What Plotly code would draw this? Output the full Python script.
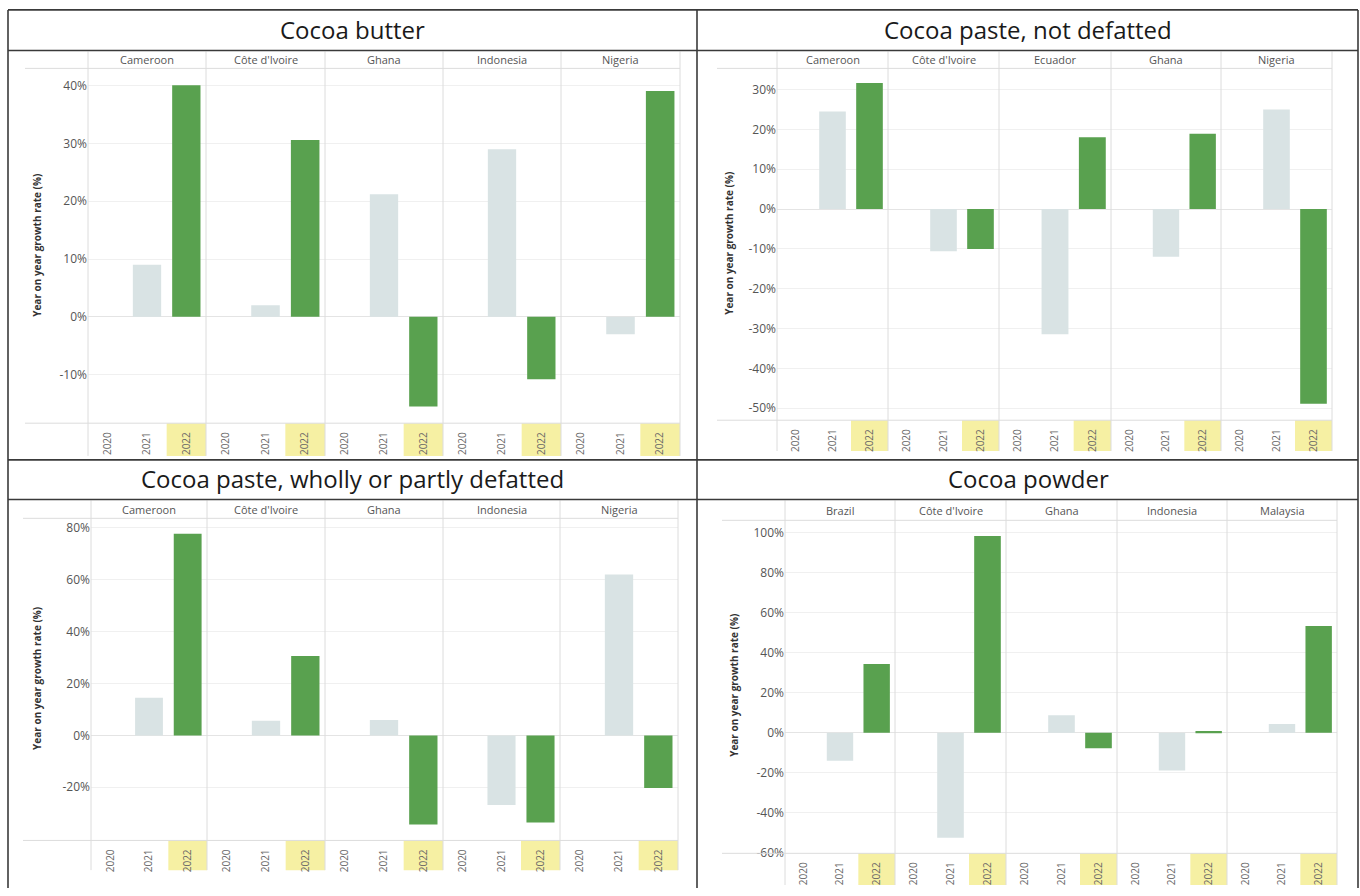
import plotly.graph_objects as go

# ---- data: year-on-year growth rate (%) of cocoa product exports ----
years = ["2020", "2021", "2022"]

products = [
    "Cocoa butter",
    "Cocoa paste, not defatted",
    "Cocoa paste, wholly or partly defatted",
    "Cocoa powder",
]

butter_countries = ["Cameroon", "Côte d'Ivoire", "Ghana", "Indonesia", "Nigeria"]
butter_2020 = [None, None, None, None, None]
butter_2021 = [9.0, 2.0, 21.2, 29.0, -3.0]
butter_2022 = [40.1, 30.6, -15.5, -10.8, 39.1]

paste_nd_countries = ["Cameroon", "Côte d'Ivoire", "Ecuador", "Ghana", "Nigeria"]
paste_nd_2020 = [None, None, None, None, None]
paste_nd_2021 = [24.5, -10.6, -31.4, -12.0, 25.0]
paste_nd_2022 = [31.6, -10.0, 18.0, 18.9, -48.9]

paste_def_countries = ["Cameroon", "Côte d'Ivoire", "Ghana", "Indonesia", "Nigeria"]
paste_def_2020 = [None, None, None, None, None]
paste_def_2021 = [14.5, 5.6, 5.9, -26.8, 62.0]
paste_def_2022 = [77.8, 30.6, -34.4, -33.6, -20.3]

powder_countries = ["Brazil", "Côte d'Ivoire", "Ghana", "Indonesia", "Malaysia"]
powder_2020 = [None, None, None, None, None]
powder_2021 = [-14.0, -52.5, 8.7, -18.9, 4.3]
powder_2022 = [34.4, 98.4, -7.8, 0.8, 53.4]

tick_vals = [
    [-10, 0, 10, 20, 30, 40],
    [-50, -40, -30, -20, -10, 0, 10, 20, 30],
    [-20, 0, 20, 40, 60, 80],
    [-60, -40, -20, 0, 20, 40, 60, 80, 100],
]
tick_text = [[f"{v}%" for v in tv] for tv in tick_vals]

series = [
    (butter_countries, butter_2020, butter_2021, butter_2022),
    (paste_nd_countries, paste_nd_2020, paste_nd_2021, paste_nd_2022),
    (paste_def_countries, paste_def_2020, paste_def_2021, paste_def_2022),
    (powder_countries, powder_2020, powder_2021, powder_2022),
]

# ---- page geometry (pixels on a 1360 x 896 canvas) ----
W, H = 1360, 896


def px(x):
    return x / W


def py(y):
    return 1 - y / H


frames = [
    dict(edges=[88, 206, 325, 443, 561, 680], head=52, top=69, bottom=427, band=460,
         rng=[-18.4, 43.0], left=25, title=(352, 30), ytitle=(37, 248)),
    dict(edges=[777, 888, 999, 1111, 1221, 1332], head=52, top=69, bottom=424, band=455,
         rng=[-53.0, 35.3], left=717, title=(1028, 30), ytitle=(729, 246)),
    dict(edges=[91, 207, 325, 443, 560, 678], head=505, top=523, bottom=848, band=878,
         rng=[-40.5, 83.7], left=23, title=(352, 483), ytitle=(37, 685)),
    dict(edges=[785, 895, 1006, 1117, 1227, 1337], head=505, top=525, bottom=861, band=893,
         rng=[-60.3, 106.2], left=722, title=(1028, 483), ytitle=(734, 692)),
]

LIGHT = "#d9e3e4"
GREEN = "#59a14f"
YELLOW = "#f6f0a3"
GRID = "#f0f0f0"
SEP = "#dcdcdc"
BORDER = "#3a3a3a"
LABEL_FONT = "Open Sans"

fig = go.Figure()
layout = {}
shapes = []
annotations = []

n = 0
for p, (fr, (countries, v20, v21, v22)) in enumerate(zip(frames, series)):
    edges = fr["edges"]
    first_n = n + 1
    for i, country in enumerate(countries):
        n += 1
        xa = "xaxis" if n == 1 else f"xaxis{n}"
        ya = "yaxis" if n == 1 else f"yaxis{n}"
        xr = "x" if n == 1 else f"x{n}"
        yr = "y" if n == 1 else f"y{n}"

        fig.add_trace(go.Bar(
            x=years,
            y=[v20[i], v21[i], v22[i]],
            width=0.72,
            marker=dict(color=[LIGHT, LIGHT, GREEN], line=dict(width=0)),
            xaxis=xr, yaxis=yr,
            showlegend=False,
            hovertemplate=country + " %{x}: %{y:.1f}%<extra></extra>",
        ))

        layout[xa] = dict(
            domain=[px(edges[i]), px(edges[i + 1])],
            anchor=yr,
            type="category",
            categoryorder="array", categoryarray=years,
            range=[-0.5, 2.5],
            tickangle=-90,
            tickfont=dict(family=LABEL_FONT, size=10, color="#666"),
            ticks="outside", ticklen=4, tickcolor="rgba(0,0,0,0)",
            showgrid=False, showline=False, zeroline=False,
            fixedrange=True,
        )
        ydict = dict(
            domain=[py(fr["bottom"]), py(fr["top"])],
            anchor=xr,
            range=fr["rng"],
            tickvals=tick_vals[p],
            ticktext=tick_text[p],
            showgrid=True, gridcolor=GRID, gridwidth=1,
            zeroline=True, zerolinecolor="#e4e4e4", zerolinewidth=1,
            showline=False,
            fixedrange=True,
            tickfont=dict(family=LABEL_FONT, size=12, color="#555"),
        )
        if i == 0:
            ydict["showticklabels"] = True
        else:
            ydict["showticklabels"] = False
            ydict["matches"] = "y" if first_n == 1 else f"y{first_n}"
        layout[ya] = ydict

        # highlighted 2022 column in the year strip
        shapes.append(dict(
            type="rect", xref=xr, yref="paper",
            x0=1.5, x1=2.5, y0=py(fr["band"]), y1=py(fr["bottom"]),
            fillcolor=YELLOW, line=dict(width=0), layer="below",
        ))

        # country header
        annotations.append(dict(
            x=(edges[i] + edges[i + 1]) / 2 / W, y=py((fr["head"] + fr["top"]) / 2),
            xref="paper", yref="paper", text=country, showarrow=False,
            font=dict(family=LABEL_FONT, size=11, color="#555"),
            xanchor="center", yanchor="middle",
        ))

    # facet separators
    for e in edges:
        shapes.append(dict(type="line", xref="paper", yref="paper",
                           x0=px(e), x1=px(e), y0=py(fr["head"]), y1=py(fr["band"]),
                           line=dict(color=SEP, width=1)))
    for yy in (fr["top"], fr["bottom"]):
        shapes.append(dict(type="line", xref="paper", yref="paper",
                           x0=px(fr["left"]), x1=px(edges[-1]), y0=py(yy), y1=py(yy),
                           line=dict(color=SEP, width=1)))

    # product title
    annotations.append(dict(
        x=px(fr["title"][0]), y=py(fr["title"][1]), xref="paper", yref="paper",
        text=products[p], showarrow=False,
        font=dict(family=LABEL_FONT, size=24, color="#1a1a1a"),
        xanchor="center", yanchor="middle",
    ))
    # y axis title
    annotations.append(dict(
        x=px(fr["ytitle"][0]), y=py(fr["ytitle"][1]), xref="paper", yref="paper",
        text="<b>Year on year growth rate (%)</b>", showarrow=False, textangle=-90,
        font=dict(family=LABEL_FONT, size=10, color="#333"),
        xanchor="center", yanchor="middle",
    ))

# panel frame lines
for (x0, y0, x1, y1) in [
    (8, 10, 1358, 10),     # top
    (8, 10, 8, 896),       # left
    (1358, 10, 1358, 896), # right
    (697, 10, 697, 896),   # middle vertical
    (8, 51, 1358, 51),     # under first titles
    (8, 464, 1358, 464),   # between rows
    (8, 504, 1358, 504),   # under second titles
]:
    shapes.append(dict(type="line", xref="paper", yref="paper",
                       x0=px(x0), x1=px(x1), y0=py(y0), y1=py(y1),
                       line=dict(color=BORDER, width=1.6)))

fig.update_layout(
    width=W, height=H,
    margin=dict(l=0, r=0, t=0, b=0),
    paper_bgcolor="white", plot_bgcolor="white",
    barmode="overlay",
    shapes=shapes,
    annotations=annotations,
    **layout,
)

fig.write_html("out.html")
